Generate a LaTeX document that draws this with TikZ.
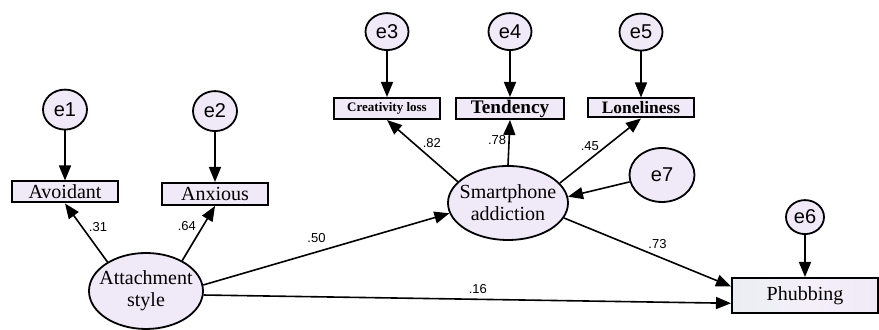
\documentclass[tikz,border=0pt]{standalone}
\usepackage{fontspec}
\setmainfont{Liberation Serif}
\setsansfont{Liberation Sans}
\usepackage{tikz}
\usetikzlibrary{shapes.geometric, arrows.meta, positioning}
\definecolor{nodefill}{RGB}{240,233,247}
\definecolor{boxblue}{RGB}{233,238,242}
\tikzstyle{latent}    = [ellipse, draw, line width=0.9pt, fill=nodefill, minimum width=57pt, minimum height=38pt, inner xsep=-4pt, inner ysep=0pt, align=center, font=\fontsize{10}{11}\selectfont]
\tikzstyle{observed}  = [rectangle, draw, line width=1pt, fill=nodefill, minimum width=53pt, minimum height=10.5pt, inner sep=0pt, font=\fontsize{10}{11}\selectfont]
\tikzstyle{errorterm} = [ellipse, draw, line width=0.9pt, fill=nodefill, minimum width=21.5pt, minimum height=18.5pt, inner sep=0pt, font=\sffamily\fontsize{10}{12}\selectfont]
\tikzstyle{arrow}     = [-{Triangle[length=7.5pt, width=6pt]}, line width=0.8pt]
\tikzstyle{coef}      = [font=\sffamily\fontsize{6.5}{7}\selectfont, inner sep=0pt]

\begin{document}
\begin{tikzpicture}[x=0.5pt, y=0.5pt, node distance=23pt]
    \useasboundingbox (0,0) rectangle (879,330);

    \node (att) [latent] at (146,39) {Attachment\\style};
    \node (avoid) [observed] at (65,138) {Avoidant};
    \node (anx) [observed, minimum height=11pt] at (215,136) {Anxious};
    \node (e1) [errorterm, minimum width=22pt, minimum height=20pt, above=25pt of avoid] {e1};
    \node (e2) [errorterm, minimum width=22pt, minimum height=20pt, above=25pt of anx] {e2};

    \node (smart) [latent, minimum width=60pt, minimum height=37pt] at (508,127) {Smartphone\\addiction};
    \node (crea) [observed, font=\bfseries\fontsize{6.5}{7}\selectfont] at (387,221.5) {Creativity loss};
    \node (tend) [observed, minimum width=54pt, font=\bfseries\fontsize{9.6}{11}\selectfont] at (510,221.5) {Tendency};
    \node (lone) [observed, minimum height=9.5pt, font=\bfseries\fontsize{8.7}{10}\selectfont] at (641,222) {Loneliness};
    \node (e3) [errorterm, above=of crea] {e3};
    \node (e4) [errorterm, above=of tend] {e4};
    \node (e5) [errorterm, above=of lone] {e5};
    \node (e7) [errorterm, minimum width=32.5pt, minimum height=27pt] at (662,155) {e7};

    \node (phub) [observed, minimum width=73pt, minimum height=17.5pt, left color=boxblue, right color=nodefill, middle color=nodefill!70!white] at (805,34.5) {Phubbing};
    \node (e6) [errorterm, minimum width=19pt, minimum height=17pt, above=21pt of phub] {e6};

    \draw [arrow] (e1) -- (avoid);
    \draw [arrow] (e2) -- (anx);
    \draw [arrow] (e3) -- (crea);
    \draw [arrow] (e4) -- (tend);
    \draw [arrow] (e5) -- (lone);
    \draw [arrow] (e6) -- (phub);

    \draw [arrow] (att.143) -- node[coef, pos=.6, xshift=8pt]{.31} (avoid.south);
    \draw [arrow] (att.40) -- node[coef, pos=.63, xshift=-8pt]{.64} (anx.south);
    \draw [arrow] (att.6) -- node[coef, pos=.46, yshift=7pt]{.50} (smart.190);
    \draw [arrow] (att.356) -- node[coef, pos=.52, yshift=5pt]{.16} (phub.186);

    \draw [arrow] (smart.157) -- node[coef, pos=.62, xshift=9pt]{.82} (crea.south);
    \draw [arrow] (smart.north) -- node[coef, pos=.56, xshift=-6pt]{.78} (tend.south);
    \draw [arrow] (smart.21) -- node[coef, pos=.58, xshift=-8.5pt]{.45} (lone.south);
    \draw [arrow] (e7.192) -- (smart.6);
    \draw [arrow] (smart.345) -- node[coef, pos=.56, yshift=6.3pt]{.73} (phub.173);
\end{tikzpicture}
\end{document}
